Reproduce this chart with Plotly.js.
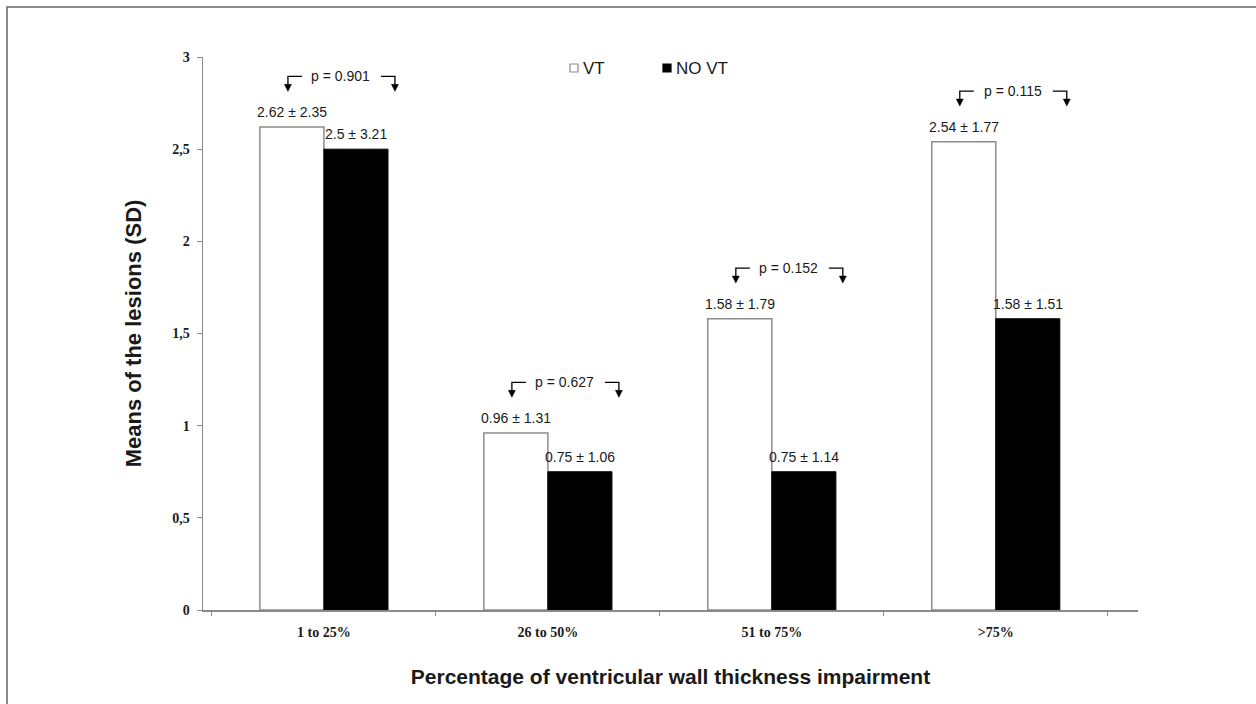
<!DOCTYPE html>
<html>
<head>
<meta charset="utf-8">
<script src="https://cdn.plot.ly/plotly-3.0.1.min.js"></script>
<style>
  html, body { margin: 0; padding: 0; background: #ffffff; }
  #chart { width: 1256px; height: 704px; }
</style>
</head>
<body>
<div id="chart"></div>
<script>
// ---- data ----
var categories  = ["1 to 25%", "26 to 50%", "51 to 75%", ">75%"];
var vtMeans     = [2.62, 0.96, 1.58, 2.54];
var vtSD        = [2.35, 1.31, 1.79, 1.77];
var noVtMeans   = [2.5, 0.75, 0.75, 1.58];
var noVtSD      = [3.21, 1.06, 1.14, 1.51];
var pValues     = ["0.901", "0.627", "0.152", "0.115"];
var yTickVals   = [0, 0.5, 1, 1.5, 2, 2.5, 3];
var yTickText   = ["0", "0,5", "1", "1,5", "2", "2,5", "3"];
var seriesNames = ["VT", "NO VT"];

// ---- styling ----
var sans = "Liberation Sans, Arial, sans-serif";
var serif = "Liberation Serif, Times New Roman, serif";
var textColor = "#1a1a1a";
var axisGray = "#8a8a8a";
var vtFill = "#ffffff", vtLine = "#8c8c8c";
var noVtFill = "#000000";

var W = 1256, H = 704;
var margin = { l: 203, r: 118, t: 57, b: 94 };
var xRange = [-0.54, 3.635];
var bargap = 0.428;

var traceVT = {
  type: "bar",
  name: seriesNames[0],
  x: categories,
  y: vtMeans,
  marker: { color: vtFill, line: { color: vtLine, width: 1.5 } },
  hoverinfo: "skip",
  showlegend: false
};
var traceNoVT = {
  type: "bar",
  name: seriesNames[1],
  x: categories,
  y: noVtMeans,
  marker: { color: noVtFill, line: { color: "#000000", width: 1 } },
  hoverinfo: "skip",
  showlegend: false
};

// bar half-offset in pixels (derived from layout)
var unitPx = (W - margin.l - margin.r) / (xRange[1] - xRange[0]);
var barPx = unitPx * (1 - bargap) / 2;

var annotations = [];
var shapes = [];

// mean ± SD labels above bars
categories.forEach(function (c, i) {
  annotations.push({
    x: i, y: vtMeans[i], xref: "x", yref: "y",
    xshift: -barPx / 2, yshift: 5, yanchor: "bottom",
    text: vtMeans[i] + " \u00b1 " + vtSD[i],
    showarrow: false,
    font: { family: sans, size: 14, color: textColor }
  });
  annotations.push({
    x: i, y: noVtMeans[i], xref: "x", yref: "y",
    xshift: barPx / 2, yshift: 5, yanchor: "bottom",
    text: noVtMeans[i] + " \u00b1 " + noVtSD[i],
    showarrow: false,
    font: { family: sans, size: 14, color: textColor }
  });
});

// p-value annotations with bent arrows
var pOffset = 0.275;
var s = 17;
categories.forEach(function (c, i) {
  var yy = Math.max(vtMeans[i], noVtMeans[i]) + pOffset;
  annotations.push({
    x: i, y: yy, xref: "x", yref: "y",
    xshift: s,
    text: "p = " + pValues[i],
    showarrow: false,
    font: { family: sans, size: 14, color: textColor }
  });
  var base = { type: "path", xref: "x", yref: "y", xsizemode: "pixel", ysizemode: "pixel", xanchor: i, yanchor: yy };
  shapes.push(Object.assign({}, base, {
    path: "M " + (s - 39) + ",0 H " + (s - 53) + " V -8",
    line: { color: "#000", width: 1.3 }
  }));
  shapes.push(Object.assign({}, base, {
    path: "M " + (s - 56.5) + ",-8 L " + (s - 49.5) + ",-8 L " + (s - 53) + ",-15 Z",
    fillcolor: "#000", line: { color: "#000", width: 0.5 }
  }));
  shapes.push(Object.assign({}, base, {
    path: "M " + (s + 40) + ",0 H " + (s + 54) + " V -8",
    line: { color: "#000", width: 1.3 }
  }));
  shapes.push(Object.assign({}, base, {
    path: "M " + (s + 50.5) + ",-8 L " + (s + 57.5) + ",-8 L " + (s + 54) + ",-15 Z",
    fillcolor: "#000", line: { color: "#000", width: 0.5 }
  }));
});

// legend (drawn manually to match the compact original)
var legendY = 1 + (57 - 68) / (H - margin.t - margin.b);
var legendItems = [
  { name: seriesNames[0], x: (574 - margin.l) / (W - margin.l - margin.r), fill: vtFill, line: vtLine },
  { name: seriesNames[1], x: (667 - margin.l) / (W - margin.l - margin.r), fill: noVtFill, line: "#000000" }
];
legendItems.forEach(function (it) {
  shapes.push({
    type: "rect", xref: "paper", yref: "paper",
    xsizemode: "pixel", ysizemode: "pixel",
    xanchor: it.x, yanchor: legendY,
    x0: -4, x1: 4, y0: -4, y1: 4,
    fillcolor: it.fill, line: { color: it.line, width: 1.2 }
  });
  annotations.push({
    x: it.x, y: legendY, xref: "paper", yref: "paper",
    xshift: 7, xanchor: "left", yanchor: "middle",
    text: it.name, showarrow: false,
    font: { family: sans, size: 17, color: textColor }
  });
});

// outer frame (top and left edges visible)
shapes.push({
  type: "rect", xref: "paper", yref: "paper",
  x0: -0.2096, x1: 1.2, y0: -0.25, y1: 1.0904,
  line: { color: "#666666", width: 1.5 },
  layer: "below"
});

var layout = {
  width: W,
  height: H,
  margin: { l: margin.l, r: margin.r, t: margin.t, b: margin.b, pad: 0 },
  paper_bgcolor: "#ffffff",
  plot_bgcolor: "#ffffff",
  barmode: "group",
  bargap: bargap,
  bargroupgap: 0,
  showlegend: false,
  xaxis: {
    type: "category",
    range: xRange,
    tickson: "boundaries",
    ticks: "outside",
    ticklen: 4,
    tickcolor: axisGray,
    showline: true,
    linecolor: axisGray,
    linewidth: 1.5,
    showgrid: false,
    zeroline: false,
    ticklabelstandoff: 9,
    tickfont: { family: serif, size: 14, color: textColor, weight: "bold" },
    title: {
      text: "<b>Percentage of ventricular wall thickness impairment</b>",
      font: { family: sans, size: 21, color: textColor },
      standoff: 30
    },
    fixedrange: true
  },
  yaxis: {
    range: [0, 3],
    tickvals: yTickVals,
    ticktext: yTickText,
    ticks: "outside",
    ticklen: 5,
    tickcolor: axisGray,
    showline: true,
    linecolor: axisGray,
    linewidth: 1.5,
    showgrid: false,
    zeroline: false,
    ticklabelstandoff: 4,
    tickfont: { family: serif, size: 14, color: textColor, weight: "bold" },
    title: {
      text: "<b>Means of the lesions (SD)</b>",
      font: { family: sans, size: 22, color: textColor },
      standoff: 24
    },
    fixedrange: true
  },
  annotations: annotations,
  shapes: shapes
};

Plotly.newPlot("chart", [traceVT, traceNoVT], layout, { displayModeBar: false, staticPlot: true });
</script>
</body>
</html>
